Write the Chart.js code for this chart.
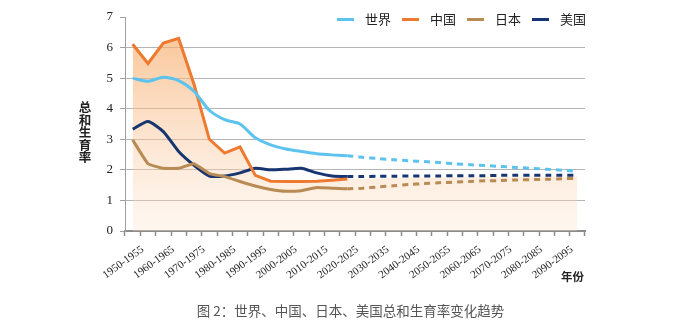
<!DOCTYPE html>
<html>
<head>
<meta charset="utf-8">
<script src="https://cdn.jsdelivr.net/npm/chart.js@4.4.0/dist/chart.umd.min.js"></script>
<style>
  body { margin: 0; background: #fff; }
  #wrap { position: relative; width: 678px; height: 335px; overflow: hidden; }
  #c { position: absolute; left: 0; top: 0; }
  .cjk { font-family: "Noto Sans CJK SC", sans-serif; position: absolute; }
  #legend { right: 92px; top: 10px; display: flex; align-items: center; font-size: 13px; color: #222; line-height: 18px; }
  #legend .sw { width: 17px; height: 3px; margin-right: 11px; }
  #legend .tx { margin-right: 11px; }
  #legend .tx:last-child { margin-right: 0; }
  #ytitle { left: 77px; top: 101px; width: 16px; font-size: 12.5px; line-height: 12.6px; color: #222; text-align: center; font-weight: bold; }
  #xtitle { left: 561px; top: 268px; font-size: 11.5px; color: #222; font-weight: bold; }
  #caption { left: 0; width: 701px; top: 300px; text-align: center; font-size: 13.5px; color: #555; }
</style>
</head>
<body>
<div id="wrap">
  <canvas id="c" width="678" height="335"></canvas>
  <div id="legend" class="cjk"></div>
  <div id="ytitle" class="cjk">总<br>和<br>生<br>育<br>率</div>
  <div id="xtitle" class="cjk">年份</div>
  <div id="caption" class="cjk">图 2：世界、中国、日本、美国总和生育率变化趋势</div>
</div>
<script>
// --- data ---
const periods = [];
for (let y = 1950; y < 2100; y += 5) periods.push(y + '-' + (y + 5));

const seriesNames = ['世界', '中国', '日本', '美国'];
const seriesColors = ['#5cc3ee', '#ee7a2f', '#b88b55', '#173570'];

const world = [5.0, 4.9, 5.03, 4.92, 4.57, 3.95, 3.64, 3.5, 3.05, 2.82, 2.68, 2.6, 2.53, 2.49, 2.46,
               2.41, 2.37, 2.33, 2.3, 2.27, 2.24, 2.2, 2.17, 2.14, 2.11, 2.08, 2.05, 2.02, 1.99, 1.95];
const china = [6.11, 5.48, 6.15, 6.3, 4.8, 3.0, 2.55, 2.75, 1.82, 1.63, 1.62, 1.62, 1.63, 1.66, 1.7];
const chinaShade = [6.11, 5.48, 6.15, 6.3, 4.8, 3.0, 2.55, 2.75, 1.82, 1.63, 1.62, 1.62, 1.63, 1.66, 1.7,
                    1.71, 1.72, 1.73, 1.74, 1.75, 1.75, 1.76, 1.76, 1.77, 1.77, 1.77, 1.78, 1.78, 1.78, 1.78];
const japan = [2.98, 2.2, 2.05, 2.05, 2.2, 1.88, 1.78, 1.62, 1.47, 1.36, 1.3, 1.32, 1.42, 1.4, 1.38,
               1.4, 1.44, 1.48, 1.52, 1.55, 1.58, 1.6, 1.62, 1.64, 1.65, 1.67, 1.68, 1.69, 1.71, 1.72];
const usa = [3.33, 3.58, 3.25, 2.6, 2.15, 1.8, 1.8, 1.9, 2.05, 2.0, 2.02, 2.05, 1.9, 1.8, 1.78,
             1.78, 1.79, 1.79, 1.8, 1.8, 1.8, 1.81, 1.81, 1.81, 1.82, 1.82, 1.82, 1.82, 1.82, 1.82];
const yTicks = [0, 1, 2, 3, 4, 5, 6, 7];
const lastObserved = 14; // 2020-2025, projections dashed after this

// --- legend (html) ---
const legendEl = document.getElementById('legend');
seriesNames.forEach((n, i) => {
  const sw = document.createElement('span');
  sw.className = 'sw';
  sw.style.background = seriesColors[i];
  const tx = document.createElement('span');
  tx.className = 'tx';
  tx.textContent = n;
  legendEl.appendChild(sw);
  legendEl.appendChild(tx);
});

function dashAfter(ctx) {
  return ctx.p0DataIndex >= lastObserved ? [6, 5] : undefined;
}

function lineSet(label, data, color, tension) {
  return {
    label, data,
    borderColor: color, backgroundColor: color,
    borderWidth: 3, pointRadius: 0, tension: tension, fill: false,
    segment: { borderDash: dashAfter }
  };
}

function shadeFill(context) {
  const area = context.chart.chartArea;
  if (!area) return 'rgba(250,200,160,0.5)';
  const g = context.chart.ctx.createLinearGradient(0, area.top, 0, area.bottom);
  g.addColorStop(0, 'rgba(247,168,100,0.72)');
  g.addColorStop(0.45, 'rgba(249,192,142,0.52)');
  g.addColorStop(1, 'rgba(253,228,206,0.3)');
  return g;
}

new Chart(document.getElementById('c'), {
  type: 'line',
  data: {
    labels: periods,
    datasets: [
      lineSet(seriesNames[0], world, seriesColors[0], 0.25),
      lineSet(seriesNames[1], china, seriesColors[1], 0),
      lineSet(seriesNames[2], japan, seriesColors[2], 0.1),
      lineSet(seriesNames[3], usa, seriesColors[3], 0.2),
      { label: 'shade', data: chinaShade, borderWidth: 0, pointRadius: 0, fill: 'origin',
        backgroundColor: shadeFill, order: 99 }
    ]
  },
  options: {
    responsive: false,
    animation: false,
    layout: { padding: { left: 100, right: 93, top: 17, bottom: 54 } },
    plugins: { legend: { display: false }, tooltip: { enabled: false } },
    scales: {
      x: {
        offset: true,
        afterFit: s => { s.height = 50; },
        grid: { drawOnChartArea: false, offset: true, tickLength: 5, tickColor: '#8c8c8c', tickWidth: 1.5 },
        border: { color: '#8c8c8c', width: 2 },
        ticks: {
          autoSkip: false, minRotation: 36, maxRotation: 36, labelOffset: 10, padding: 7,
          color: '#222', font: { family: 'Liberation Serif', size: 11 },
          callback: (v, i) => i % 2 === 0 ? periods[i] : ''
        }
      },
      y: {
        min: 0, max: 7,
        afterFit: s => { s.width = 25; },
        afterBuildTicks: s => { s.ticks = yTicks.map(v => ({ value: v })); },
        grid: {
          color: c => (c.tick.value === 0 || c.tick.value === 7) ? 'rgba(0,0,0,0)' : '#b4b4b4',
          tickColor: '#a0a0a0', tickLength: 5, lineWidth: 1
        },
        border: { color: '#a0a0a0', width: 1 },
        ticks: { padding: 7, color: '#222', font: { family: 'Liberation Serif', size: 13 } }
      }
    }
  }
});
</script>
</body>
</html>
